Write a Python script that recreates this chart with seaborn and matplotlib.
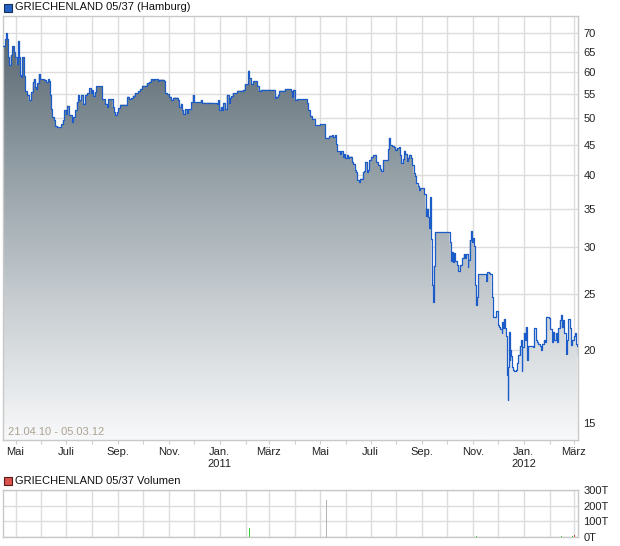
import numpy as np
import pandas as pd
import matplotlib
matplotlib.use("Agg")
import matplotlib.pyplot as plt
from matplotlib.colors import LinearSegmentedColormap
from matplotlib.ticker import FixedLocator, FixedFormatter, NullLocator
from matplotlib.patches import Rectangle
import seaborn as sns

# ---------------- data ----------------
start_date = "2010-04-16"

day_offsets = [
    0, 2.4, 3.6, 4.4, 6.4, 7.6, 9.2, 10.8, 13.2, 14.8, 16.4, 18, 18.8, 20.4, 21.6, 22.8, 25.2, 26.8,
    29.2, 30.9, 34, 35.7, 36.9, 38.1, 39.6, 41.2, 42.9, 44.4, 49.2, 51.6, 54, 55.6, 56.4, 58, 59.2,
    61.2, 62.8, 64.5, 70, 71.7, 73.2, 75.6, 77.2, 78.9, 82.8, 84.4, 86.8, 88.5, 90, 91.6, 94, 95.7,
    98.8, 101.2, 103.6, 105.3, 106.8, 108.4, 110.1, 111.6, 118.8, 122.8, 124.5, 126, 131.7, 133.3,
    134.8, 136.5, 138, 140.5, 149.2, 151.6, 153.3, 155.7, 158.1, 162.1, 164.5, 166.9, 172.5, 175.6,
    177.3, 179.7, 181.3, 186.1, 187.6,
    193.3, 194.9, 197.3, 199.6, 202, 204.5, 210, 211.7, 213.3, 214.9, 216.5, 218.1, 220.5, 222.1,
    226.1, 227.7, 229.3, 237.3, 238.9, 252.5, 254.9, 256.5, 258.1, 259.7, 261.3, 262.9, 264.5, 266.1,
    268.5, 270.9, 272.5, 274.1, 275.7, 281.3, 287.7, 290.1, 294.1, 295.7, 297.3, 300.5, 305.3, 306.9,
    309.4, 326.2, 327.7, 330.1, 331.7, 338.2, 345.4, 346.9, 348.5, 350.2, 352.6, 365.3,
    366, 368.5, 371, 374.2, 380.6, 386.2, 386.9, 391.7, 395, 396.5, 398.2, 399.8, 401.3, 404.6, 406.1,
    407.8, 409.4, 410.9, 412.6, 414.2, 415.7, 419, 420.5, 422.2, 423.8, 425.3, 427, 428.6, 431.8,
    433.4, 434.9, 436.6, 438.2, 439.7, 442.1, 443.8, 446.2, 447.8, 450.2, 452.6, 454.1, 455.8, 462.2,
    463, 464.6, 467, 469.4, 470.9, 472.6, 475, 476.6, 478.1, 479.8, 481.4, 482.9, 484.6, 486.2, 487.7,
    489.4, 491, 492.6, 494.2, 495.8, 497.4, 499, 500.6, 505.4, 507, 507.8, 508.6, 510.2, 511, 511.8,
    512.6, 513.4, 514.2, 515.8, 516.6, 518.2,
    535.8, 537.4, 539, 539.8, 541.4, 542.9, 544.6, 546.2, 547.8, 551, 552.6, 554.2, 555.8, 557.4,
    558.2, 559.8, 561.5, 562.6, 563.9, 564.6, 566.2, 567.8, 568.7, 570.2, 579, 580.6, 583, 584.6,
    586.2, 587.8, 591.8, 593.4, 595, 596.6, 598.2, 599, 599.8, 600.6, 602.3, 603.8, 604.7, 605.4,
    606.2, 607, 607.8, 608.6, 609.4, 610.2, 611.9, 613.4, 615, 616.7, 618.2, 619.8, 621.5, 622.2,
    623, 624.6, 626.3, 627, 628.7, 630.3, 635.8, 637.4, 639, 640.7, 642.3, 643.8, 645.5, 647, 648.6,
    650.3, 651.9, 655.1, 656.7, 658.2, 659.9, 661.5, 663, 664.7, 666.3, 667.8, 669.5, 671.1, 671.9,
    673.5, 675, 676.7, 678.3, 679.8, 681.5, 683, 684.6, 686.3, 687, 688.7, 689.4,
]

prices = [
    66.7, 68.4, 70.0, 68.4, 63.7, 61.8, 64.3, 66.6, 65.0, 63.7, 61.9, 68.0, 63.7, 59.4, 58.8, 63.7, 59.2, 55.7,
    54.9, 53.7, 55.5, 57.7, 58.4, 56.6, 56.2, 57.5, 59.6, 58.4, 58.3, 57.7, 58.4, 58.0, 54.9, 51.9, 50.3,
    49.6, 48.6, 48.3, 48.9, 49.6, 51.6, 50.9, 52.6, 50.7, 49.3, 50.3, 51.6, 53.3, 54.9, 53.7, 54.9, 53.0,
    54.9, 55.3, 56.3, 55.3, 55.9, 54.7, 55.5, 56.8, 53.9, 53.0, 52.3, 53.9, 52.3, 51.2,
    50.7, 51.3, 52.1, 52.8, 54.5, 53.9, 54.2, 54.7, 55.3, 55.7, 56.2, 56.9, 57.5, 57.8,
    58.4, 58.3, 58.4, 58.0, 58.3,
    58.0, 55.3, 55.0, 54.5, 53.8, 54.3, 53.8, 52.3, 53.0, 51.6, 50.9, 51.8, 51.1, 51.9,
    53.3, 54.9, 53.3, 53.8, 53.2, 53.1, 53.2, 53.0, 53.7, 51.6, 52.3, 51.6, 53.2, 51.9,
    54.9, 53.2, 54.3, 54.6, 55.3, 55.8, 56.0, 57.2, 60.4, 58.6, 57.2, 58.0, 56.9, 55.8,
    56.0, 54.3, 54.5, 54.9, 55.8, 56.2, 55.8, 54.5, 56.0, 53.8, 54.0, 53.1,
    51.6, 50.5, 49.9, 48.7, 48.9, 48.6, 46.3, 46.7, 46.8, 46.4, 46.8, 45.2, 43.9, 43.5, 43.9,
    43.0, 43.4, 42.8, 43.3, 42.7, 43.0, 42.1, 41.8, 40.7, 40.4, 39.2, 38.8, 39.4, 40.4,
    40.6, 42.1, 40.4, 40.7, 42.4, 42.9, 43.2, 43.3, 42.1, 41.6, 41.0, 40.6, 42.4, 44.3,
    46.3, 45.0, 44.8, 44.6, 44.2, 44.4, 44.6, 43.3, 41.9, 42.6, 44.0, 43.5, 42.3, 42.8, 43.3,
    42.8, 41.6, 40.3, 39.8, 38.7, 38.2, 37.6, 37.9, 37.1, 35.0, 34.0, 35.0, 33.8, 32.4, 33.8,
    36.6, 31.0, 25.9, 24.2, 27.9, 31.9,
    30.6, 28.4, 29.5, 28.3, 29.3, 28.4, 28.0, 27.3, 28.0, 28.8, 29.2, 28.8, 29.2, 27.8,
    28.6, 30.9, 32.0, 30.7, 31.1, 30.2, 25.9, 23.9, 24.7, 27.0, 26.3, 27.2, 27.1, 27.0,
    24.7, 22.8, 23.3, 22.1, 21.9, 21.7, 21.4, 22.3, 21.8, 22.6, 21.8, 21.1, 18.1, 16.4,
    18.7, 21.5, 19.2, 20.0, 19.5, 18.7, 18.5, 18.4, 18.5, 19.0, 19.6, 20.3, 20.8, 18.4,
    20.2, 21.4, 20.8, 21.9, 19.2, 20.3, 20.2, 21.8, 20.8, 20.6, 20.5, 20.3, 20.0, 20.5, 20.8,
    20.6, 22.8, 22.7, 21.7, 20.6, 21.5, 20.8, 21.4, 20.6, 21.8, 22.5, 23.0, 21.9, 22.5,
    21.4, 19.7, 20.8, 22.6, 21.8, 20.4, 20.8, 21.1, 21.4, 20.5, 20.3, 19.5,
]

vol_days = [296, 388, 568, 670, 683, 686]
vol_values = [60, 235, 8, 8, 8, 12]          # thousands
vol_colors = ["#33cc33", "#b4b4b4", "#33cc33", "#33cc33", "#33cc33", "#e03c3c"]

month_starts = pd.date_range("2010-05-01", "2012-03-01", freq="MS")
month_labels = ["Mai", "", "Juli", "", "Sep.", "", "Nov.", "", "Jan.\n2011", "", "März", "",
                "Mai", "", "Juli", "", "Sep.", "", "Nov.", "", "Jan.\n2012", "", "März"]
price_ticks = [15, 20, 25, 30, 35, 40, 45, 50, 55, 60, 65, 70]
vol_ticks = [0, 100, 200, 300]
vol_tick_labels = ["0T", "100T", "200T", "300T"]

title_main = "GRIECHENLAND 05/37 (Hamburg)"
title_vol = "GRIECHENLAND 05/37 Volumen"
range_text = "21.04.10 - 05.03.12"

# ---------------- style ----------------
sns.set_theme(style="white")
plt.rcParams["font.family"] = ["Liberation Sans", "DejaVu Sans"]

t0 = pd.Timestamp(start_date)
dates = t0 + pd.to_timedelta(np.array(day_offsets), unit="D")
df = pd.DataFrame({"date": dates, "price": prices})
vdates = t0 + pd.to_timedelta(np.array(vol_days), unit="D")
x_lo = t0
x_hi = t0 + pd.Timedelta(days=690)

W, H = 620, 546
fig = plt.figure(figsize=(W / 100, H / 100), dpi=100)
fig.patch.set_facecolor("white")

grid_c = "#dcdcdc"
spine_c = "#c8c8c8"

# ---------------- price panel ----------------
ax = fig.add_axes([3 / W, 1 - 440 / H, 575 / W, 424 / H])
ax.set_yscale("log")

poly = ax.fill_between(df["date"], df["price"], 1, step="post",
                       facecolor="none", edgecolor="none")
cmap = LinearSegmentedColormap.from_list("g", ["#f8f9fa", "#c6ccd0", "#8e9aa1", "#52606a"])
grad = np.linspace(0, 1, 256).reshape(-1, 1)
im = ax.imshow(grad, cmap=cmap, aspect="auto", extent=(0, 1, 0, 1), origin="lower",
               transform=ax.transAxes, zorder=1, interpolation="bilinear")
im.set_clip_path(poly.get_paths()[0], transform=ax.transData)

sns.lineplot(data=df, x="date", y="price", ax=ax, color="#1c5cc8", linewidth=0.9,
             drawstyle="steps-post", zorder=3)

ax.set_xlim(x_lo, x_hi)
ax.set_ylim(14.0, 75.0)
ax.yaxis.tick_right()
ax.yaxis.set_major_locator(FixedLocator(price_ticks))
ax.yaxis.set_major_formatter(FixedFormatter([str(t) for t in price_ticks]))
ax.yaxis.set_minor_locator(NullLocator())
ax.xaxis.set_major_locator(FixedLocator(matplotlib.dates.date2num(month_starts)))
ax.xaxis.set_major_formatter(FixedFormatter(month_labels))
ax.xaxis.set_minor_locator(NullLocator())
ax.set_xlabel("")
ax.set_ylabel("")
ax.grid(True, color=grid_c, linewidth=1, zorder=0)
ax.set_axisbelow(True)
ax.tick_params(axis="y", which="both", length=0, pad=4, labelsize=8, colors="#222222")
ax.tick_params(axis="x", which="both", length=3, width=0.8, color="#d0d0d0", pad=2,
               labelsize=8, labelcolor="#222222", bottom=True)
for s in ax.spines.values():
    s.set_color(spine_c)
    s.set_linewidth(1)
ax.text(0.008, 0.018, range_text, transform=ax.transAxes, color="#aca392",
        fontsize=8, va="center", ha="left", zorder=5)

# ---------------- volume panel ----------------
ax2 = fig.add_axes([3 / W, 1 - 537 / H, 575 / W, 47 / H])
ax2.bar(vdates, vol_values, width=1.5, color=vol_colors, zorder=3, linewidth=0,
        antialiased=False)
ax2.set_xlim(x_lo, x_hi)
ax2.set_ylim(0, 300)
ax2.yaxis.tick_right()
ax2.yaxis.set_major_locator(FixedLocator(vol_ticks))
ax2.yaxis.set_major_formatter(FixedFormatter(vol_tick_labels))
ax2.xaxis.set_major_locator(FixedLocator(matplotlib.dates.date2num(month_starts)))
ax2.xaxis.set_major_formatter(FixedFormatter([""] * len(month_starts)))
ax2.grid(True, color=grid_c, linewidth=1, zorder=0)
ax2.set_axisbelow(True)
ax2.tick_params(axis="y", length=0, pad=4, labelsize=8, colors="#222222")
ax2.tick_params(axis="x", length=0)
for s in ax2.spines.values():
    s.set_color(spine_c)
    s.set_linewidth(1)

# ---------------- titles ----------------
fig.add_artist(Rectangle((4 / W, 1 - 12 / H), 8 / W, 8 / H, transform=fig.transFigure,
                         facecolor="#2463c4", edgecolor="#1a2f5a", linewidth=0.8))
fig.text(15 / W, 1 - 7.5 / H, title_main, fontsize=8, va="center", ha="left", color="#111111")
fig.add_artist(Rectangle((4 / W, 1 - 485 / H), 8 / W, 8 / H, transform=fig.transFigure,
                         facecolor="#d9534f", edgecolor="#5a1a1a", linewidth=0.8))
fig.text(15 / W, 1 - 480.5 / H, title_vol, fontsize=8, va="center", ha="left", color="#111111")

fig.savefig("out.png", dpi=100, facecolor="white")
